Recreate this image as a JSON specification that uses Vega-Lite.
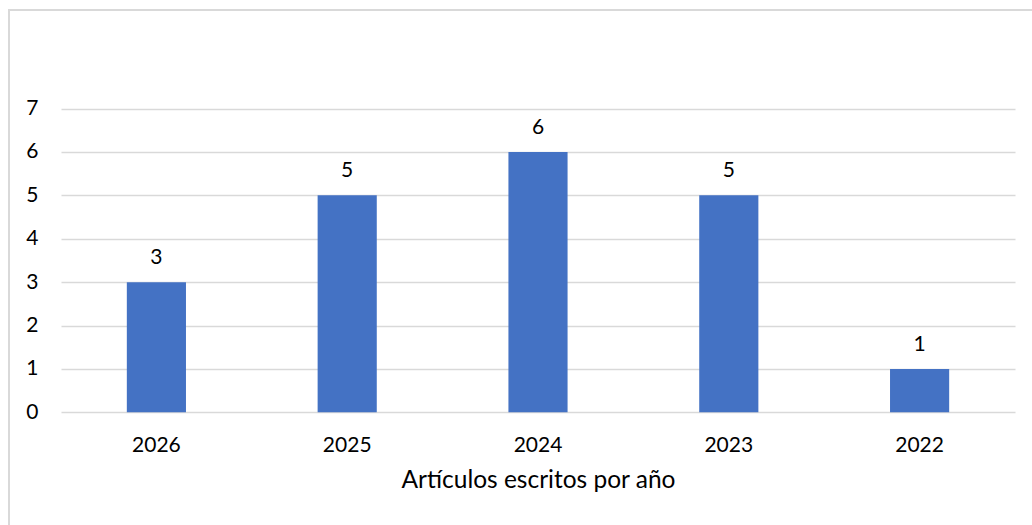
{
  "$schema": "https://vega.github.io/schema/vega-lite/v6.json",
  "width": 1026,
  "height": 518,
  "autosize": {"type": "none"},
  "padding": {"left": 9, "top": 10, "right": 0, "bottom": 0},
  "background": "white",
  "config": {
    "view": {"stroke": "#d9d9d9", "strokeWidth": 2},
    "font": "Lato"
  },
  "data": {
    "values": [
      {"year": "2026", "count": 3},
      {"year": "2025", "count": 5},
      {"year": "2024", "count": 6},
      {"year": "2023", "count": 5},
      {"year": "2022", "count": 1}
    ]
  },
  "encoding": {
    "x": {
      "field": "year",
      "type": "nominal",
      "sort": null,
      "scale": {"range": [52, 1006], "paddingInner": 0.69, "paddingOuter": 0.345},
      "axis": {
        "title": "Artículos escritos por año",
        "offset": -115.7,
        "domain": false,
        "ticks": false,
        "grid": false,
        "labelAngle": 0,
        "labelFont": "Lato",
        "labelFontSize": 21,
        "labelColor": "#000000",
        "labelPadding": 22,
        "titleFont": "Lato",
        "titleFontSize": 24.5,
        "titleFontWeight": "normal",
        "titleColor": "#000000",
        "titlePadding": 13
      }
    },
    "y": {
      "field": "count",
      "type": "quantitative",
      "scale": {"domain": [-2.665, 9.27], "nice": false, "zero": false},
      "axis": {
        "title": null,
        "offset": -52,
        "values": [0, 1, 2, 3, 4, 5, 6, 7],
        "domain": false,
        "ticks": false,
        "grid": true,
        "gridColor": "#d9d9d9",
        "gridWidth": 1.3,
        "labelFont": "Lato",
        "labelFontSize": 21,
        "labelColor": "#000000",
        "labelPadding": 23
      }
    }
  },
  "layer": [
    {"mark": {"type": "bar", "color": "#4472C4"}},
    {
      "mark": {"type": "text", "dy": -18, "baseline": "alphabetic", "fontSize": 21, "font": "Lato", "color": "#000000"},
      "encoding": {"text": {"field": "count", "type": "quantitative"}}
    }
  ]
}
